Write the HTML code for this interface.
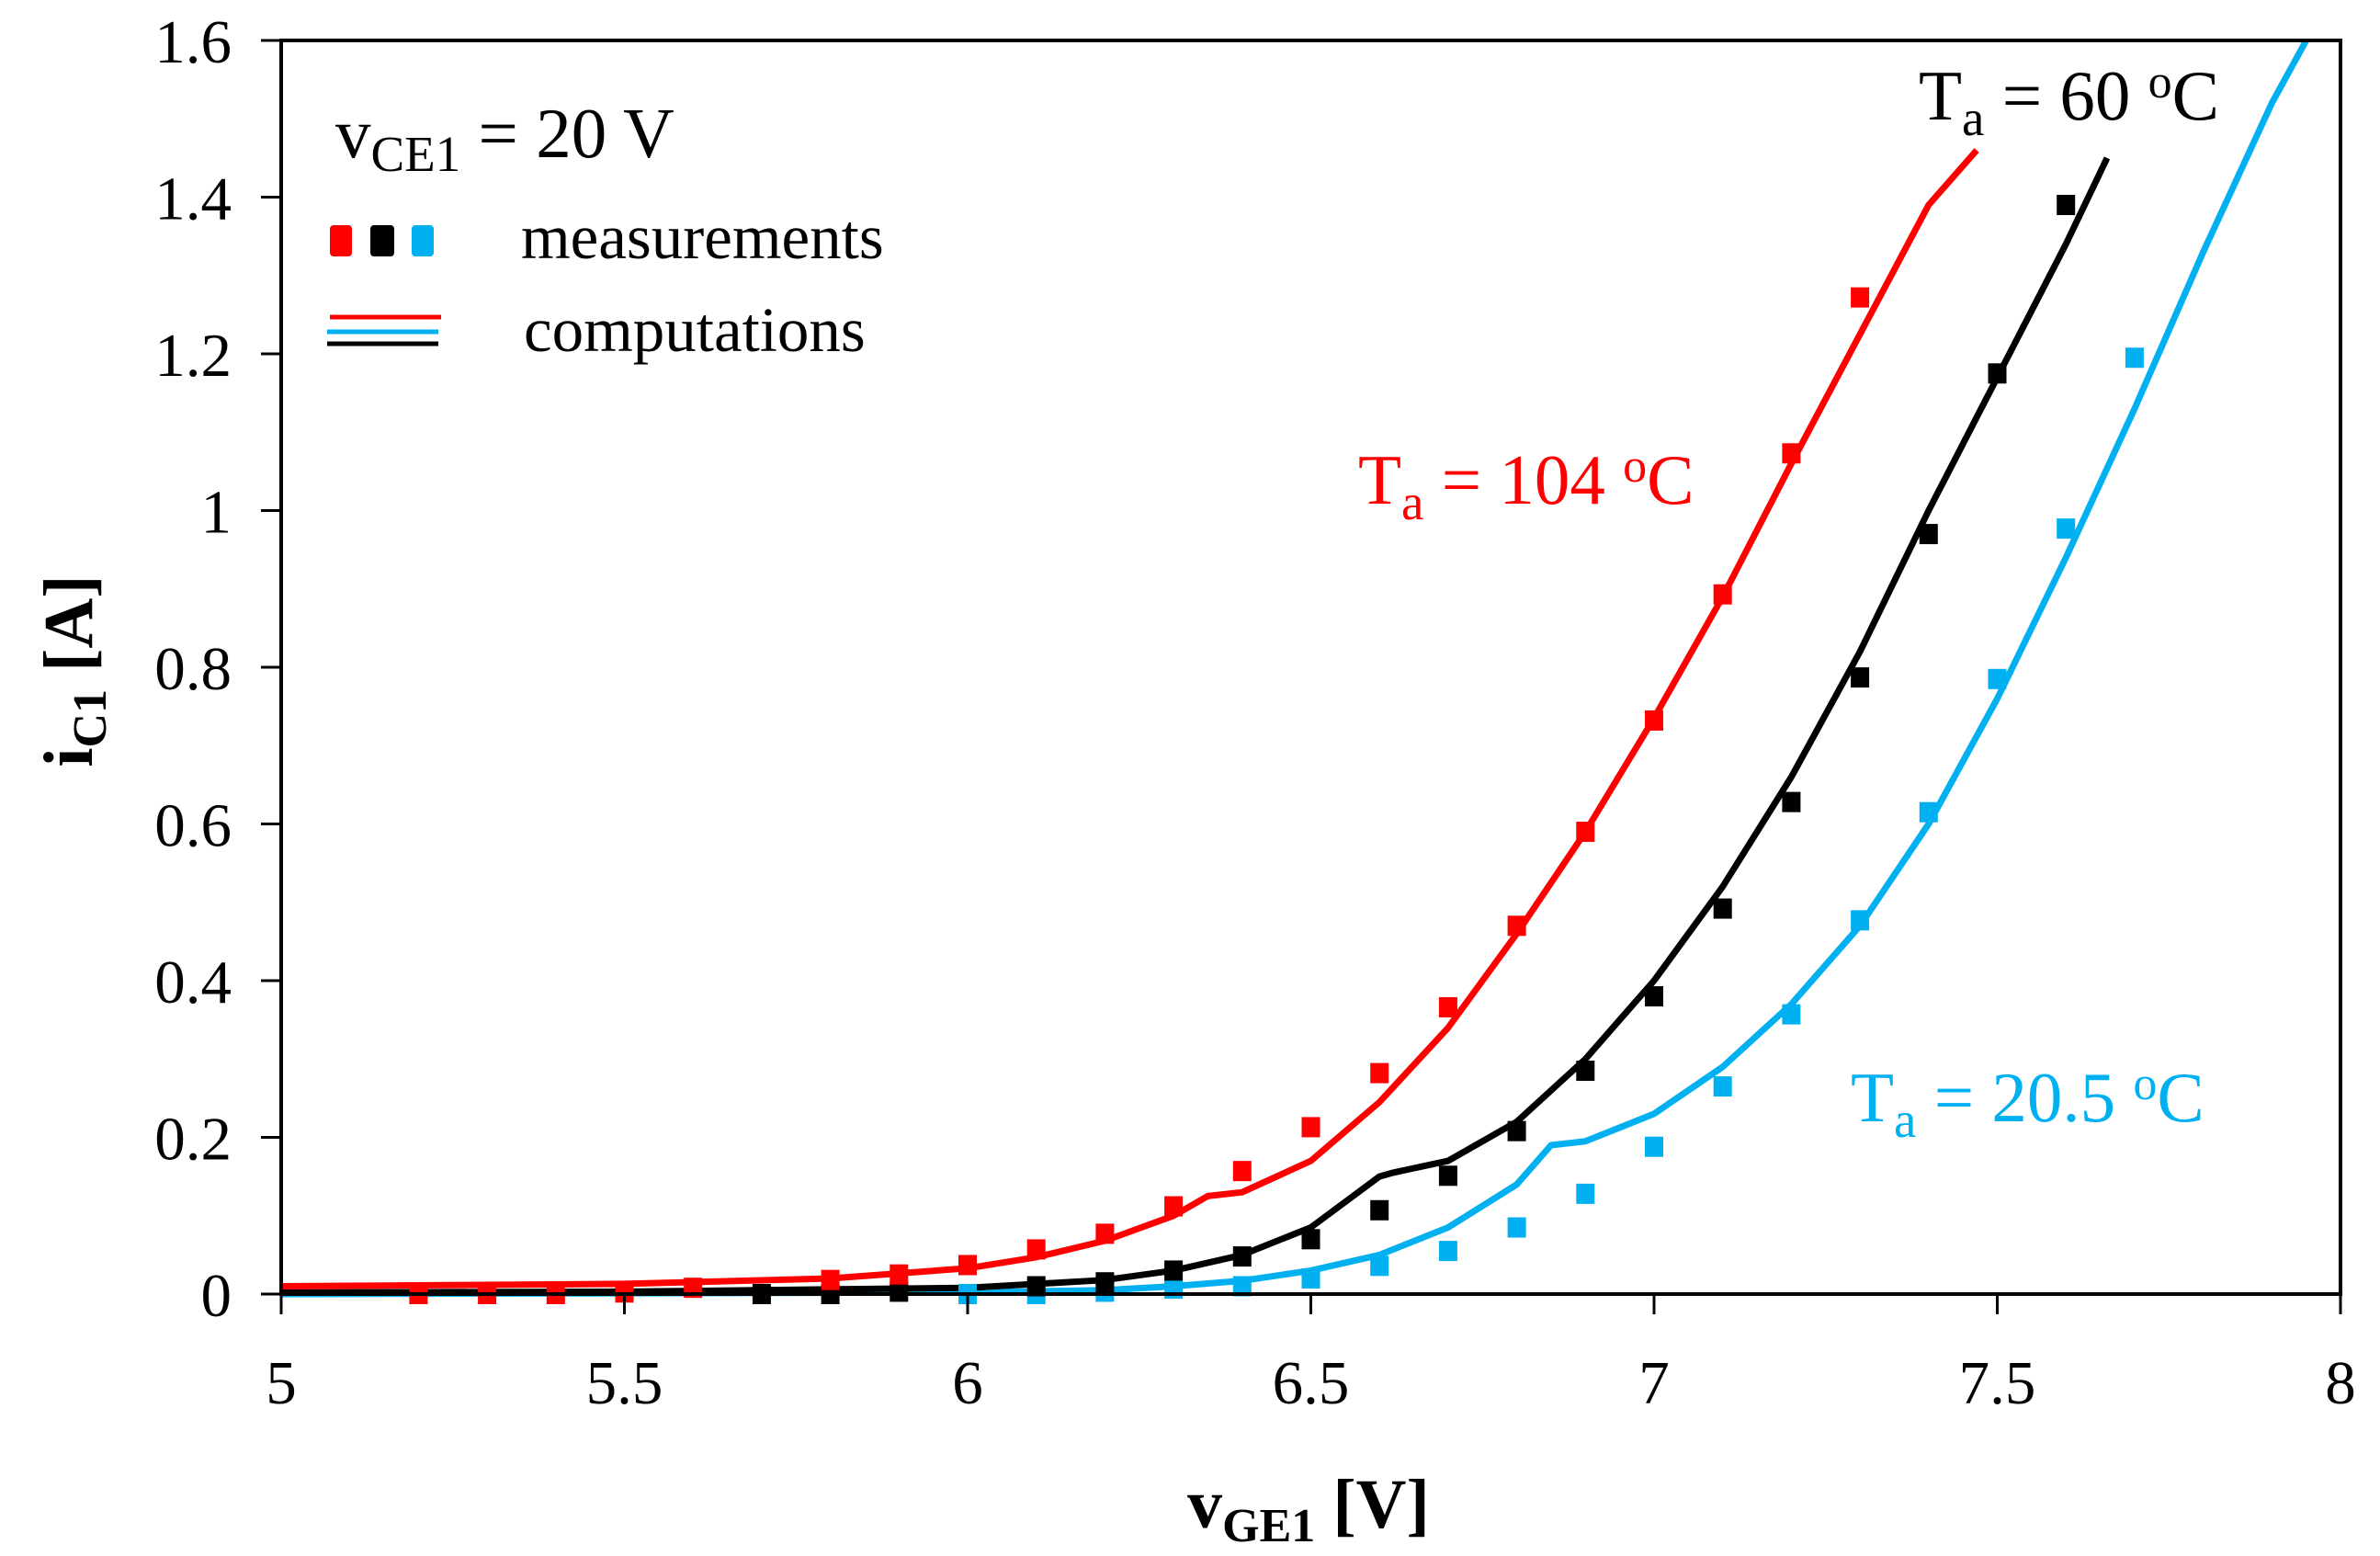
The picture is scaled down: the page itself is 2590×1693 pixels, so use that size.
<!DOCTYPE html>
<html><head><meta charset="utf-8"><style>
html,body{margin:0;padding:0;background:#fff}
svg{display:block;font-family:"Liberation Serif",serif}
</style></head><body>
<svg id="chart" width="2590" height="1693" viewBox="0 0 2590 1693" xmlns="http://www.w3.org/2000/svg">
<g id="plot"></g>
<g id="axes"></g>
<text x="365" y="171" font-size="77">v<tspan font-size="55" dy="15">CE1</tspan><tspan dy="-15"> = 20 V</tspan></text>
<g>
<rect x="359" y="245" width="24" height="34" rx="4" fill="#ff0000"/>
<rect x="403" y="245" width="26" height="34" rx="4" fill="#000"/>
<rect x="448" y="245" width="24" height="34" rx="4" fill="#00b0f0"/>
<text x="567" y="281" font-size="69">measurements</text>
<line x1="359" y1="345" x2="480" y2="345" stroke="#ff0000" stroke-width="5"/>
<line x1="356" y1="361" x2="477" y2="361" stroke="#00b0f0" stroke-width="5"/>
<line x1="356" y1="374" x2="477" y2="374" stroke="#000" stroke-width="5"/>
<text x="570" y="382" font-size="69">computations</text>
</g>
<text x="2088" y="130" font-size="77" fill="#000">T<tspan font-size="55" dy="17">a</tspan><tspan dy="-17"> = 60 </tspan><tspan font-size="52" dy="-24">o</tspan><tspan dy="24">C</tspan></text>
<text x="1478" y="548" font-size="77" fill="#ff0000">T<tspan font-size="55" dy="17">a</tspan><tspan dy="-17"> = 104 </tspan><tspan font-size="52" dy="-24">o</tspan><tspan dy="24">C</tspan></text>
<text x="2014" y="1220" font-size="77" fill="#00b0f0">T<tspan font-size="55" dy="17">a</tspan><tspan dy="-17"> = 20.5 </tspan><tspan font-size="52" dy="-24">o</tspan><tspan dy="24">C</tspan></text>
<text x="1424" y="1662" font-size="76" font-weight="bold" text-anchor="middle">v<tspan font-size="52" dy="15">GE1</tspan><tspan dy="-15"> [V]</tspan></text>
<text transform="translate(100,730) rotate(-90)" font-size="76" font-weight="bold" text-anchor="middle">i<tspan font-size="52" dy="15">C1</tspan><tspan dy="-15"> [A]</tspan></text>
</svg>
<script>
const xTicks=[5,5.5,6,6.5,7,7.5,8];
const xTickLabels=["5","5.5","6","6.5","7","7.5","8"];
const yTicks=[0,0.2,0.4,0.6,0.8,1,1.2,1.4,1.6];
const yTickLabels=["0","0.2","0.4","0.6","0.8","1","1.2","1.4","1.6"];
const redMeasX=[5.2,5.3,5.4,5.5,5.6,5.8,5.9,6.0,6.1,6.2,6.3,6.4,6.5,6.6,6.7,6.8,6.9,7.0,7.1,7.2,7.3];
const redMeasY=[0,0,0,0.002,0.008,0.018,0.025,0.037,0.057,0.077,0.112,0.157,0.213,0.282,0.366,0.47,0.59,0.732,0.893,1.073,1.272];
const blackMeasX=[5.7,5.8,5.9,6.1,6.2,6.3,6.4,6.5,6.6,6.7,6.8,6.9,7.0,7.1,7.2,7.3,7.4,7.5,7.6];
const blackMeasY=[0,0,0.003,0.01,0.015,0.03,0.048,0.07,0.107,0.151,0.208,0.285,0.38,0.492,0.628,0.787,0.97,1.175,1.39];
const blueMeasX=[6.0,6.1,6.2,6.3,6.4,6.5,6.6,6.7,6.8,6.9,7.0,7.1,7.2,7.3,7.4,7.5,7.6,7.7];
const blueMeasY=[0,0,0.003,0.007,0.01,0.02,0.036,0.055,0.085,0.128,0.188,0.265,0.357,0.477,0.615,0.785,0.977,1.195];
const redCompX=[5,5.5,5.8,6.0,6.1,6.2,6.3,6.35,6.4,6.5,6.6,6.7,6.8,6.9,7.0,7.1,7.2,7.3,7.4,7.47];
const redCompY=[0.01,0.013,0.02,0.033,0.047,0.068,0.1,0.125,0.13,0.17,0.245,0.34,0.46,0.59,0.735,0.89,1.06,1.225,1.39,1.46];
const blackCompX=[5,5.5,6.0,6.2,6.3,6.4,6.5,6.6,6.62,6.7,6.8,6.9,7.0,7.1,7.2,7.3,7.4,7.5,7.6,7.66];
const blackCompY=[0.002,0.003,0.008,0.018,0.03,0.05,0.085,0.15,0.155,0.17,0.22,0.3,0.4,0.52,0.66,0.82,1.0,1.17,1.34,1.45];
const blueCompX=[5,6.0,6.2,6.3,6.4,6.5,6.6,6.7,6.8,6.85,6.9,7.0,7.1,7.2,7.3,7.4,7.5,7.6,7.7,7.8,7.9,7.95];
const blueCompY=[0,0.002,0.005,0.01,0.017,0.03,0.05,0.085,0.14,0.19,0.195,0.23,0.29,0.37,0.47,0.6,0.76,0.94,1.13,1.33,1.52,1.6];

const NS="http://www.w3.org/2000/svg";
const X0=306,X1=2547,Y0=1408,Y1=44;
function sx(v){return X0+(v-5)/3*(X1-X0);}
function sy(v){return Y0-(v/1.6)*(Y0-Y1);}
function mk(tag,attrs,parent){const e=document.createElementNS(NS,tag);for(const k in attrs)e.setAttribute(k,attrs[k]);parent.appendChild(e);return e;}
const plot=document.getElementById('plot'),axes=document.getElementById('axes');

const frame=mk('rect',{x:X0,y:Y1,width:X1-X0,height:Y0-Y1,fill:'none',stroke:'#000','stroke-width':4},axes);


xTicks.forEach((t,i)=>{
  const l=mk('line',{x1:sx(t),x2:sx(t),y1:Y0,y2:Y0+22,stroke:'#000','stroke-width':3},axes);
  
  
  const tx=mk('text',{x:sx(t),y:1527,'font-size':67,'text-anchor':'middle'},axes);
  tx.textContent=xTickLabels[i];
  
  
});
yTicks.forEach((t,i)=>{
  const l=mk('line',{x1:X0-22,x2:X0,y1:sy(t),y2:sy(t),stroke:'#000','stroke-width':3},axes);
  
  
  const tx=mk('text',{x:252,y:sy(t)+24,'font-size':67,'text-anchor':'end'},axes);
  tx.textContent=yTickLabels[i];
  
  
});
function curve(xs,ys,color,name){
  const d=xs.map((x,i)=>(i?'L':'M')+sx(x).toFixed(1)+','+sy(ys[i]).toFixed(1)).join(' ');
  const p=mk('path',{d:d,fill:'none',stroke:color,'stroke-width':7,'stroke-linejoin':'round'},plot);
  
  
}
function pts(xs,ys,color,name){
  xs.forEach((x,i)=>{
    const r=mk('rect',{x:sx(x)-10,y:sy(ys[i])-11,width:20,height:22,fill:color},plot);
    
    
  });
}
curve(blueCompX,blueCompY,'#00b0f0','computed-20c');
curve(blackCompX,blackCompY,'#000','computed-60c');
curve(redCompX,redCompY,'#ff0000','computed-104c');
pts(blueMeasX,blueMeasY,'#00b0f0','measured-point-20c');
pts(blackMeasX,blackMeasY,'#000','measured-point-60c');
pts(redMeasX,redMeasY,'#ff0000','measured-point-104c');
</script>
</body></html>
